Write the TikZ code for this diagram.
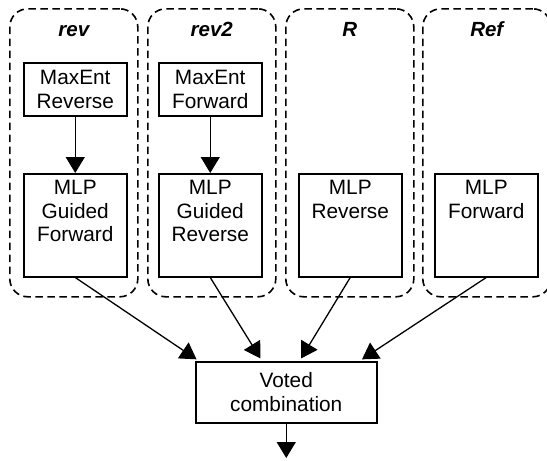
\documentclass[tikz,border=0pt]{standalone}
\usepackage{fontspec}
\setmainfont{Liberation Sans}
\usetikzlibrary{arrows.meta}
\begin{document}
\begin{tikzpicture}[x=1pt,y=-1pt,
  font=\fontsize{20.8}{23.5}\selectfont,
  grp/.style={draw,dashed,dash pattern=on 7.5pt off 4.5pt,line width=1.6pt,rounded corners=18pt,
    minimum width=128pt,minimum height=288pt,inner sep=0pt,anchor=north west},
  ttl/.style={font=\fontsize{20.5}{24}\selectfont\bfseries\itshape,anchor=base,inner sep=0pt},
  sbox/.style={draw,line width=1.5pt,minimum width=103pt,minimum height=53pt,inner sep=0pt,
    anchor=north west,align=center},
  tbox/.style={draw,line width=1.5pt,inner sep=0pt,anchor=north west},
  arr/.style={-{Triangle[length=16pt,width=19pt]},line width=1.3pt}]
\useasboundingbox (0,0) rectangle (547,461);
\fill[white] (0,0) rectangle (547,461);
% groups
\node[grp] (g1) at (9,8) {};
\node[grp] (g2) at (147,8) {};
\node[grp] (g3) at (285,8) {};
\node[grp] (g4) at (422,8) {};
\node[ttl] (t1) at (g1.center |- 0,36) {rev};
\node[ttl] (t2) at (g2.center |- 0,36) {rev2};
\node[ttl] (t3) at (g3.center |- 0,36) {R};
\node[ttl] (t4) at (g4.center |- 0,36) {Ref};
% inner boxes
\node[sbox] (me1) at (23,62) {MaxEnt\\Reverse};
\node[sbox] (me2) at (158,62) {MaxEnt\\Forward};
\node[tbox] (m1) at (23,173) {\parbox[c][103pt][t]{103pt}{\centering\rule{0pt}{21pt}MLP\\Guided\\Forward}};
\node[tbox] (m2) at (158,173) {\parbox[c][103pt][t]{103pt}{\centering\rule{0pt}{21pt}MLP\\Guided\\Reverse}};
\node[tbox] (m3) at (298,173) {\parbox[c][103pt][t]{103pt}{\centering\rule{0pt}{21pt}MLP\\Reverse}};
\node[tbox] (m4) at (434,173) {\parbox[c][103pt][t]{103pt}{\centering\rule{0pt}{21pt}MLP\\Forward}};
% voted
\node[draw,line width=1.5pt,minimum width=181pt,minimum height=61pt,inner sep=0pt,
  anchor=north west,align=center] (v) at (195,361) {Voted\\combination};
\coordinate (out) at (v.center |- 0,458);
% connectors
\draw[arr] (me1) -- (m1);
\draw[arr] (me2) -- (m2);
\draw[arr,shorten >=3pt] (m1.south) -- ([xshift=4pt]v.north west);
\draw[arr,shorten >=3pt] (m2.south) -- ([xshift=67pt]v.north west);
\draw[arr,shorten >=3pt] (m3.south) -- ([xshift=-78pt]v.north east);
\draw[arr,shorten >=3pt] (m4.south) -- ([xshift=-18pt]v.north east);
\draw[arr] (v) -- (out);
\end{tikzpicture}
\end{document}
